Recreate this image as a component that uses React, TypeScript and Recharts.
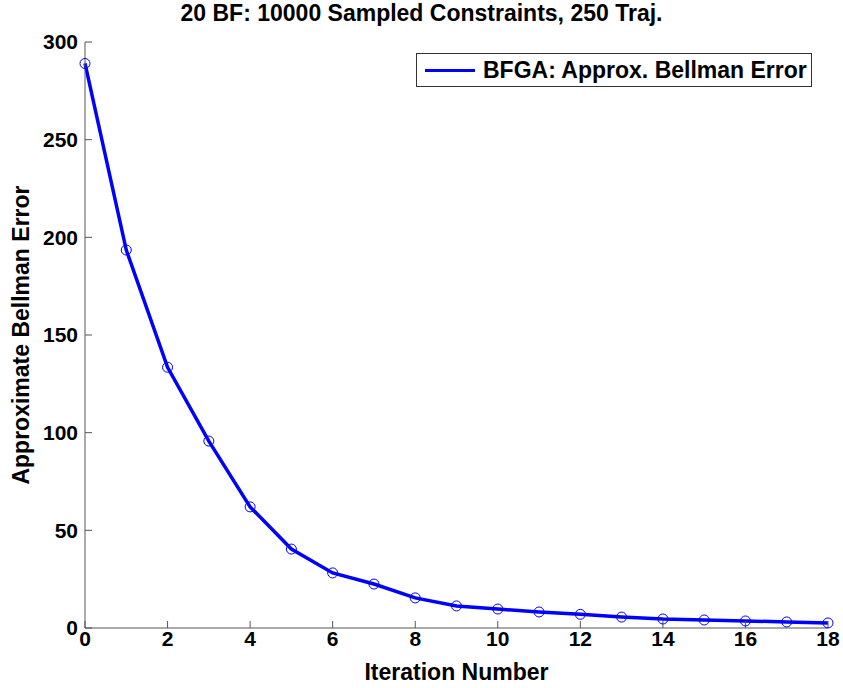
import { LineChart, Line, XAxis, YAxis, Label } from "recharts"

const iterations = [0, 1, 2, 3, 4, 5, 6, 7, 8, 9, 10, 11, 12, 13, 14, 15, 16, 17, 18]
const bellmanError = [289, 193.5, 133.5, 95.7, 62, 40.4, 28.2, 22.5, 15.4, 11.3, 9.7, 8.2, 7, 5.6, 4.6, 4.1, 3.6, 3.1, 2.6]
const xTicks = [0, 2, 4, 6, 8, 10, 12, 14, 16, 18]
const yTicks = [0, 50, 100, 150, 200, 250, 300]

const title = "20 BF: 10000 Sampled Constraints, 250 Traj."
const seriesName = "BFGA: Approx. Bellman Error"

const data = iterations.map((it, i) => ({ it, err: bellmanError[i] }))

const font = "'Liberation Sans', Arial, sans-serif"
const tickStyle = { fontSize: 21, fontWeight: 700, fill: "#000", fontFamily: font }
const labelStyle = { fontSize: 23, fontWeight: 700, fill: "#000", fontFamily: font }

function LegendBox() {
	return (
		<div
			style={{
				position: "absolute",
				left: 416,
				top: 53,
				width: 396,
				height: 34,
				boxSizing: "border-box",
				display: "flex",
				alignItems: "center",
				border: "1px solid #333",
				background: "#fff",
				paddingLeft: 8,
				fontFamily: font,
				fontWeight: 700,
				fontSize: 23,
				color: "#000",
				whiteSpace: "nowrap",
			}}
		>
			<span style={{ width: 50, height: 3, background: "#0000ff", marginRight: 8, flex: "none" }} />
			{seriesName}
		</div>
	)
}

export default function App() {
	return (
		<div style={{ position: "absolute", left: 0, top: 0, width: 843, height: 688, background: "#fff" }}>
			<div
				style={{
					position: "absolute",
					top: 0,
					left: 0,
					width: 843,
					lineHeight: "27px",
					textAlign: "center",
					fontFamily: font,
					fontWeight: 700,
					fontSize: 23,
					color: "#000",
					whiteSpace: "nowrap",
				}}
			>
				{title}
			</div>
			<LineChart width={843} height={688} data={data} margin={{ top: 42, right: 15, bottom: 0, left: 0 }}>
				<XAxis
					dataKey="it"
					type="number"
					domain={[0, 18]}
					ticks={xTicks}
					height={60}
					stroke="#555"
					tickSize={-7}
					tickMargin={10}
					tick={tickStyle}
				>
					<Label value="Iteration Number" position="insideBottom" offset={8} style={labelStyle} />
				</XAxis>
				<YAxis
					type="number"
					domain={[0, 300]}
					ticks={yTicks}
					width={85}
					stroke="#555"
					tickSize={-7}
					tickMargin={14}
					tick={tickStyle}
				>
					<Label value="Approximate Bellman Error" angle={-90} position="insideLeft" offset={21} style={{ ...labelStyle, textAnchor: "middle" }} />
				</YAxis>
				<Line
					dataKey="err"
					name={seriesName}
					stroke="#0000ff"
					strokeWidth={3.5}
					dot={{ r: 5, stroke: "#0000ff", strokeWidth: 1, fill: "none" }}
					activeDot={false}
					isAnimationActive={false}
				/>
			</LineChart>
			<LegendBox />
		</div>
	)
}
